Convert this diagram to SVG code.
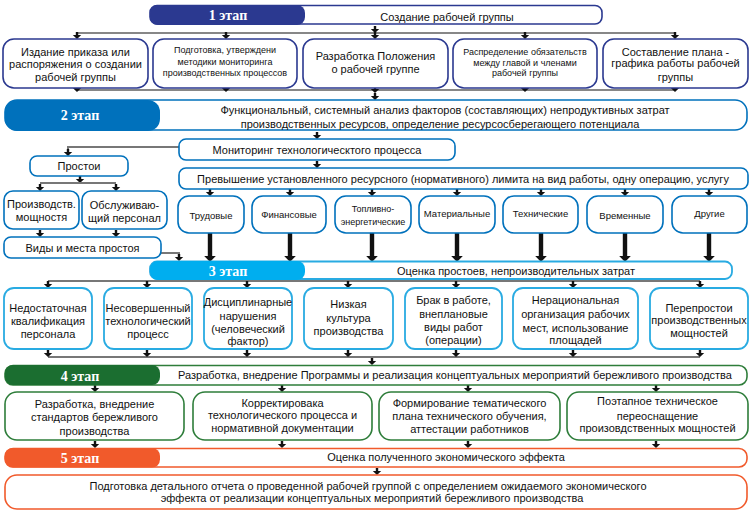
<svg xmlns="http://www.w3.org/2000/svg" xmlns:xlink="http://www.w3.org/1999/xlink" width="754" height="515" viewBox="0 0 754 515">
<style>
text{font-family:"Liberation Sans",Arial,sans-serif;font-size:11px;fill:#111;text-anchor:middle}
.st{font-family:"Liberation Serif","Times New Roman",serif;font-size:14px;font-weight:bold;fill:#fff}
.sm{font-size:9px}
.rs{font-size:9.5px}
.b1{fill:#fff;stroke:#2B3990;stroke-width:1.6}
.b2{fill:#fff;stroke:#0071BC;stroke-width:1.6}
.b3{fill:#fff;stroke:#29ABE2;stroke-width:1.8}
.b4{fill:#fff;stroke:#2E7D3A;stroke-width:1.6}
.b5{fill:#fff;stroke:#F15A2B;stroke-width:1.6}
.ln{fill:none;stroke:#111;stroke-width:1.2}
.lg{fill:none;stroke:#777;stroke-width:2}
.ah{fill:#111}
</style>
<defs>
<path id="ah" d="M-1.2,-7 h2.4 v3 h3 l-4.2,4 l-4.2,-4 h3 z"/>
<path id="th" d="M-2.2,-29 h4.4 v23 h3.6 l-5.8,6 l-5.8,-6 h3.6 z"/>
</defs>
<rect width="754" height="515" fill="#fff"/>

<g id="connectors" class="ah">
<path class="ln" d="M77,33 H675"/>
<use href="#ah" x="375" y="33"/>
<use href="#ah" x="77" y="39"/><use href="#ah" x="226" y="39"/><use href="#ah" x="375" y="39"/><use href="#ah" x="525" y="39"/><use href="#ah" x="675" y="39"/>
<path class="ln" d="M77,90 H675"/>
<use href="#ah" x="77" y="92"/><use href="#ah" x="226" y="92"/><use href="#ah" x="525" y="92"/><use href="#ah" x="675" y="92"/>
<use href="#ah" x="375" y="93"/><use href="#ah" x="375" y="100"/>
<use href="#ah" x="317" y="139"/>
<use href="#ah" x="317" y="168"/>
<path class="lg" d="M179,147 H68 V150"/>
<use href="#ah" x="68" y="156"/>
<use href="#ah" x="80" y="183"/>
<path class="lg" d="M40,183 H116"/>
<use href="#ah" x="40" y="191"/><use href="#ah" x="116" y="191"/>
<use href="#ah" x="40" y="237"/><use href="#ah" x="116" y="237"/>
<path class="lg" d="M161,253 H179 V256"/>
<use href="#ah" x="179" y="261"/>
<use href="#ah" x="210" y="196"/><use href="#ah" x="290" y="196"/><use href="#ah" x="372" y="196"/><use href="#ah" x="457" y="196"/><use href="#ah" x="541" y="196"/><use href="#ah" x="625" y="196"/><use href="#ah" x="709" y="196"/>
<use href="#th" x="210" y="262"/><use href="#th" x="290" y="262"/><use href="#th" x="372" y="262"/><use href="#th" x="457" y="262"/><use href="#th" x="541" y="262"/><use href="#th" x="625" y="262"/><use href="#th" x="709" y="262"/>
<path class="lg" d="M48,281 H700"/>
<use href="#ah" x="48" y="288"/><use href="#ah" x="147" y="288"/><use href="#ah" x="247" y="288"/><use href="#ah" x="348" y="288"/><use href="#ah" x="456" y="288"/><use href="#ah" x="573" y="288"/><use href="#ah" x="700" y="288"/>
<path class="lg" d="M48,357 H700"/>
<use href="#ah" x="48" y="357"/><use href="#ah" x="147" y="357"/><use href="#ah" x="247" y="357"/><use href="#ah" x="348" y="357"/><use href="#ah" x="456" y="357"/><use href="#ah" x="573" y="357"/><use href="#ah" x="700" y="357"/>
<use href="#ah" x="372" y="365"/>
<use href="#ah" x="95" y="392"/><use href="#ah" x="282" y="392"/><use href="#ah" x="468" y="392"/><use href="#ah" x="656" y="392"/>
<use href="#ah" x="95" y="448"/><use href="#ah" x="282" y="448"/><use href="#ah" x="468" y="448"/><use href="#ah" x="656" y="448"/>
<use href="#ah" x="377" y="475"/>
</g>

<g id="stage1">
<rect class="b1" x="150" y="5.5" width="452" height="18.5" rx="7"/>
<rect x="150" y="5" width="155" height="20" rx="8" fill="#2B3990"/>
<text class="st" x="228" y="20">1 этап</text>
<text x="447" y="21">Создание рабочей группы</text>
</g>
<g id="s1-order">
<rect class="b1" x="3" y="39" width="145" height="49" rx="11"/>
<text x="75.5" y="55.5">Издание приказа или</text>
<text x="75.5" y="68">распоряжения о создании</text>
<text x="75.5" y="81">рабочей группы</text>
</g>
<g id="s1-method">
<rect class="b1" x="153" y="39" width="144" height="49" rx="11"/>
<text class="sm" x="225" y="53">Подготовка, утверждени</text>
<text class="sm" x="225" y="65">методики мониторинга</text>
<text class="sm" x="225" y="75.5">производственных процессов</text>
</g>
<g id="s1-regulation">
<rect class="b1" x="303" y="39" width="145" height="49" rx="11"/>
<text x="375.5" y="60">Разработка Положения</text>
<text x="375.5" y="73">о рабочей группе</text>
</g>
<g id="s1-duties">
<rect class="b1" x="453" y="39" width="144" height="49" rx="11"/>
<text class="sm" x="525" y="55">Распределение обязательств</text>
<text class="sm" x="525" y="66">между главой и членами</text>
<text class="sm" x="525" y="76">рабочей группы</text>
</g>
<g id="s1-plan">
<rect class="b1" x="603" y="39" width="145" height="49" rx="11"/>
<text x="675.5" y="55.5">Составление плана -</text>
<text x="675.5" y="67">графика работы рабочей</text>
<text x="675.5" y="80.5">группы</text>
</g>

<g id="stage2">
<rect class="b2" x="5" y="100" width="742" height="30" rx="12"/>
<rect x="5" y="100" width="155" height="31" rx="12" fill="#0071BC"/>
<text class="st" x="80" y="120">2 этап</text>
<text x="445" y="114">Функциональный, системный анализ факторов (составляющих) непродуктивных затрат</text>
<text x="440" y="127.5">производственных ресурсов, определение ресурсосберегающего потенциала</text>
</g>
<g id="monitoring">
<rect class="b2" x="179" y="139" width="276" height="21" rx="7"/>
<text x="317" y="154">Мониторинг технологическтого процесса</text>
</g>
<g id="excess">
<rect class="b2" x="179" y="168" width="569" height="21" rx="7"/>
<text x="463" y="183">Превышение установленного ресурсного (нормативного) лимита на вид работы, одну операцию, услугу</text>
</g>
<g id="downtime">
<rect class="b2" x="30" y="156" width="98" height="20" rx="7"/>
<text x="79" y="170">Простои</text>
</g>
<g id="capacity">
<rect class="b2" x="4" y="191" width="75" height="38" rx="9"/>
<text x="41.5" y="207.5">Производств.</text>
<text x="41.5" y="221">мощностя</text>
</g>
<g id="staff">
<rect class="b2" x="82" y="191" width="85" height="38" rx="9"/>
<text x="124.5" y="208.5">Обслуживаю-</text>
<text x="124.5" y="222">щий персонал</text>
</g>
<g id="downtime-kinds">
<rect class="b2" x="4" y="237" width="157" height="21" rx="7"/>
<text x="82.5" y="251.5">Виды и места простоя</text>
</g>
<g id="r-labor"><rect class="b2" x="178" y="196" width="66" height="37" rx="11"/><text class="rs" x="211" y="218.5">Трудовые</text></g>
<g id="r-finance"><rect class="b2" x="252" y="196" width="74" height="37" rx="11"/><text class="rs" x="289" y="217.5">Финансовые</text></g>
<g id="r-fuel"><rect class="b2" x="335" y="196" width="76" height="37" rx="11"/><text class="sm" x="373" y="211.5">Топливно-</text><text class="sm" x="373" y="224.5">энергетические</text></g>
<g id="r-material"><rect class="b2" x="419" y="196" width="76" height="37" rx="11"/><text class="rs" x="457" y="217">Материальные</text></g>
<g id="r-technical"><rect class="b2" x="503" y="196" width="75" height="37" rx="11"/><text class="rs" x="540.5" y="217">Технические</text></g>
<g id="r-time"><rect class="b2" x="587" y="196" width="76" height="37" rx="11"/><text class="rs" x="625" y="219">Временные</text></g>
<g id="r-other"><rect class="b2" x="672" y="196" width="75" height="37" rx="11"/><text class="rs" x="709.5" y="217">Другие</text></g>

<g id="stage3">
<rect class="b3" x="150" y="261.5" width="582" height="17.5" rx="7"/>
<rect x="150" y="261" width="155" height="19" rx="8" fill="#00AEEF"/>
<text class="st" x="228" y="275.5">3 этап</text>
<text x="516" y="275">Оценка простоев, непроизводительных затрат</text>
</g>
<g id="c-qualification">
<rect class="b3" x="4" y="288" width="88" height="61" rx="10"/>
<text x="48" y="311.5">Недостаточная</text><text x="48" y="324.5">квалификация</text><text x="48" y="338">персонала</text>
</g>
<g id="c-process">
<rect class="b3" x="104" y="288" width="88" height="61" rx="10"/>
<text x="148" y="312">Несовершенный</text><text x="148" y="325">технологический</text><text x="148" y="338">процесс</text>
</g>
<g id="c-discipline">
<rect class="b3" x="204" y="288" width="88" height="61" rx="10"/>
<text x="248" y="306">Дисциплинарные</text><text x="248" y="320">нарушения</text><text x="248" y="333">(человеческий</text><text x="248" y="345">фактор)</text>
</g>
<g id="c-culture">
<rect class="b3" x="304" y="288" width="89" height="61" rx="10"/>
<text x="348.5" y="308">Низкая</text><text x="348.5" y="321.5">культура</text><text x="348.5" y="335">производства</text>
</g>
<g id="c-defects">
<rect class="b3" x="405" y="288" width="97" height="61" rx="10"/>
<text x="453.5" y="304">Брак в работе,</text><text x="453.5" y="318">внеплановые</text><text x="453.5" y="331">виды работ</text><text x="453.5" y="344">(операции)</text>
</g>
<g id="c-organization">
<rect class="b3" x="513" y="288" width="125" height="61" rx="10"/>
<text x="575.5" y="304">Нерациональная</text><text x="575.5" y="318">организация рабочих</text><text x="575.5" y="331.5">мест, использование</text><text x="575.5" y="344">площадей</text>
</g>
<g id="c-idle">
<rect class="b3" x="650" y="288" width="98" height="61" rx="10"/>
<text x="699" y="311.5">Перепростои</text><text x="699" y="324">производственных</text><text x="699" y="337">мощностей</text>
</g>

<g id="stage4">
<rect class="b4" x="5" y="365.5" width="742" height="19.5" rx="8"/>
<rect x="5" y="365" width="155" height="20" rx="8" fill="#1B6E30"/>
<text class="st" x="80" y="380.5">4 этап</text>
<text x="455" y="379">Разработка, внедрение Программы и реализация концептуальных мероприятий бережливого производства</text>
</g>
<g id="p-standards">
<rect class="b4" x="5" y="392" width="179" height="48" rx="12"/>
<text x="94.5" y="408">Разработка, внедрение</text><text x="94.5" y="421">стандартов бережливого</text><text x="94.5" y="434.5">производства</text>
</g>
<g id="p-correction">
<rect class="b4" x="193" y="392" width="179" height="48" rx="12"/>
<text x="282.5" y="406.5">Корректировака</text><text x="282.5" y="419">технологического процесса и</text><text x="282.5" y="432">нормативной документации</text>
</g>
<g id="p-training">
<rect class="b4" x="379" y="392" width="181" height="48" rx="12"/>
<text x="469.5" y="407">Формирование тематического</text><text x="469.5" y="420">плана технического обучения,</text><text x="469.5" y="433">аттестации работников</text>
</g>
<g id="p-reequipment">
<rect class="b4" x="567" y="392" width="181" height="48" rx="12"/>
<text x="657.5" y="405">Поэтапное техническое</text><text x="657.5" y="419.5">переоснащение</text><text x="657.5" y="432">произовдственных мощностей</text>
</g>

<g id="stage5">
<rect class="b5" x="5" y="448.5" width="742" height="18.5" rx="8"/>
<rect x="5" y="448" width="155" height="19.5" rx="8" fill="#F15A2B"/>
<text class="st" x="80" y="462.5">5 этап</text>
<text x="446" y="461">Оценка полученного экономического эффекта</text>
</g>
<g id="report">
<rect class="b5" x="5" y="475" width="742" height="34" rx="12"/>
<text x="368" y="490">Подготовка детального отчета о проведенной рабочей группой с определением ожидаемого экономического</text>
<text x="372" y="502">эффекта от реализации концептуальных мероприятий бережливого производства</text>
</g>
</svg>
